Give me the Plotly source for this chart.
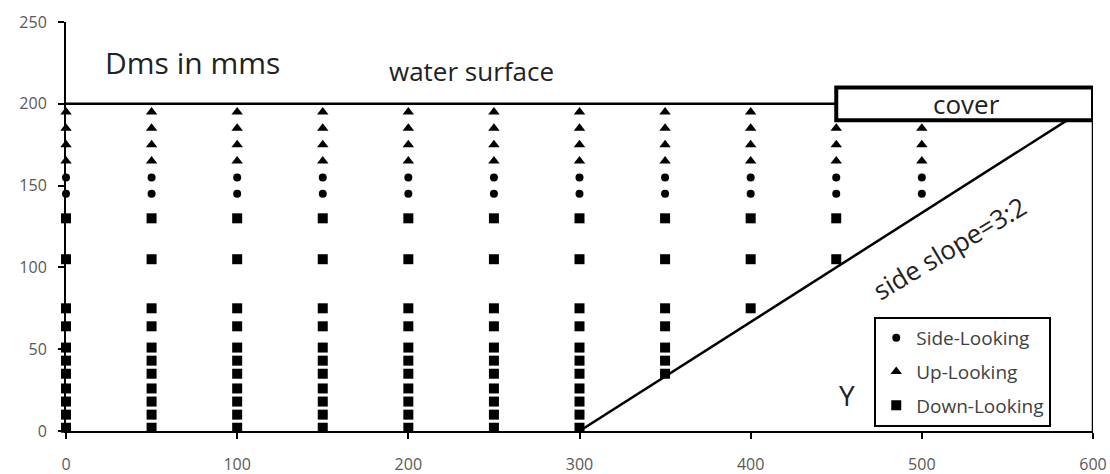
import plotly.graph_objects as go

# Measurement stations across the channel (Y, mm)
stations = [0, 50, 100, 150, 200, 250, 300, 350, 400, 450, 500]

# Probe elevations (Z, mm)
up_full = [195, 185, 175, 165]
up_under_cover = [185, 175, 165]
side_levels = [155, 145]
down_full = [2, 10, 18, 26, 35, 43, 51, 64, 75, 105, 130]
down_350 = [35, 43, 51, 64, 75, 105, 130]
down_400 = [75, 105, 130]
down_450 = [105, 130]

up_by_station = {s: up_full for s in stations[:9]}
up_by_station.update({450: up_under_cover, 500: up_under_cover})
side_by_station = {s: side_levels for s in stations}
down_by_station = {s: down_full for s in stations[:7]}
down_by_station.update({350: down_350, 400: down_400, 450: down_450})

# Channel geometry (Y, Z in mm)
surface_y = [0, 450]
surface_z = [200, 200]
bank_y = [300, 585]
bank_z = [0, 190]
wall_y = [600, 600]
wall_z = [0, 190]
cover_y = [450, 600]
cover_z = [190, 210]


def flatten(mapping):
    ys, zs = [], []
    for s, levels in mapping.items():
        for z in levels:
            ys.append(s)
            zs.append(z)
    return ys, zs


side_y, side_z = flatten(side_by_station)
up_y, up_z = flatten(up_by_station)
down_y, down_z = flatten(down_by_station)

TEXT_FONT = "Open Sans"

fig = go.Figure()

fig.add_trace(go.Scatter(
    x=side_y, y=side_z, mode="markers", name="Side-Looking",
    legendgroup="a", cliponaxis=False,
    marker=dict(symbol="circle", size=8, color="black"),
))
fig.add_trace(go.Scatter(
    x=up_y, y=up_z, mode="markers", name="Up-Looking",
    legendgroup="b", cliponaxis=False,
    marker=dict(symbol="triangle-up", size=10, color="black"),
))
fig.add_trace(go.Scatter(
    x=down_y, y=down_z, mode="markers", name="Down-Looking",
    legendgroup="c", cliponaxis=False,
    marker=dict(symbol="square", size=10, color="black"),
))

shapes = [
    dict(type="line", xref="x", yref="y",
         x0=surface_y[0], x1=surface_y[1], y0=surface_z[0], y1=surface_z[1],
         line=dict(color="black", width=2.5)),
    dict(type="line", xref="x", yref="y",
         x0=bank_y[0], x1=bank_y[1], y0=bank_z[0], y1=bank_z[1],
         line=dict(color="black", width=2.5)),
    dict(type="line", xref="x", yref="y",
         x0=wall_y[0], x1=wall_y[1], y0=wall_z[0], y1=wall_z[1],
         line=dict(color="black", width=2.5)),
    dict(type="rect", xref="x", yref="y",
         x0=cover_y[0], x1=cover_y[1], y0=cover_z[0], y1=cover_z[1],
         fillcolor="white", line=dict(color="black", width=4)),
]

annotations = [
    dict(text="Z", x=-17.5, y=228, font=dict(size=24, color="#222222")),
    dict(text="Dms in mms", x=74, y=225, font=dict(size=30, color="#222222")),
    dict(text="water surface", x=237, y=220, font=dict(size=26, color="#222222")),
    dict(text="cover", x=526, y=200, font=dict(size=26, color="#222222")),
    dict(text="Y", x=456, y=22, font=dict(size=28, color="#222222")),
    dict(text="side slope=3:2", x=516, y=112, textangle=-31,
         font=dict(size=26, color="#222222")),
]
for a in annotations:
    a.update(xref="x", yref="y", showarrow=False, xanchor="center", yanchor="middle")
    a["font"]["family"] = TEXT_FONT

fig.update_layout(
    width=1110, height=474,
    margin=dict(l=66, r=17, t=22, b=43),
    paper_bgcolor="white", plot_bgcolor="white",
    shapes=shapes, annotations=annotations,
    showlegend=True,
    legend=dict(
        x=0.787, y=0.279, xanchor="left", yanchor="top",
        bgcolor="white", bordercolor="black", borderwidth=2,
        font=dict(family=TEXT_FONT, size=19, color="#404040"),
        traceorder="grouped", tracegroupgap=6,
    ),
    font=dict(family=TEXT_FONT),
)

fig.update_xaxes(
    range=[0, 600], tickvals=[0, 100, 200, 300, 400, 500, 600],
    showgrid=False, zeroline=False, automargin=False,
    showline=True, linecolor="black", linewidth=2,
    ticks="outside", ticklen=6, tickwidth=2, tickcolor="black",
    ticklabelstandoff=12,
    tickfont=dict(family=TEXT_FONT, size=16, color="#595959"),
)
fig.update_yaxes(
    range=[0, 250], tickvals=[0, 50, 100, 150, 200, 250],
    showgrid=False, zeroline=False, automargin=False,
    showline=True, linecolor="black", linewidth=2,
    ticks="outside", ticklen=6, tickwidth=2, tickcolor="black",
    ticklabelstandoff=8,
    tickfont=dict(family=TEXT_FONT, size=16, color="#595959"),
)

fig.write_html("out.html")
